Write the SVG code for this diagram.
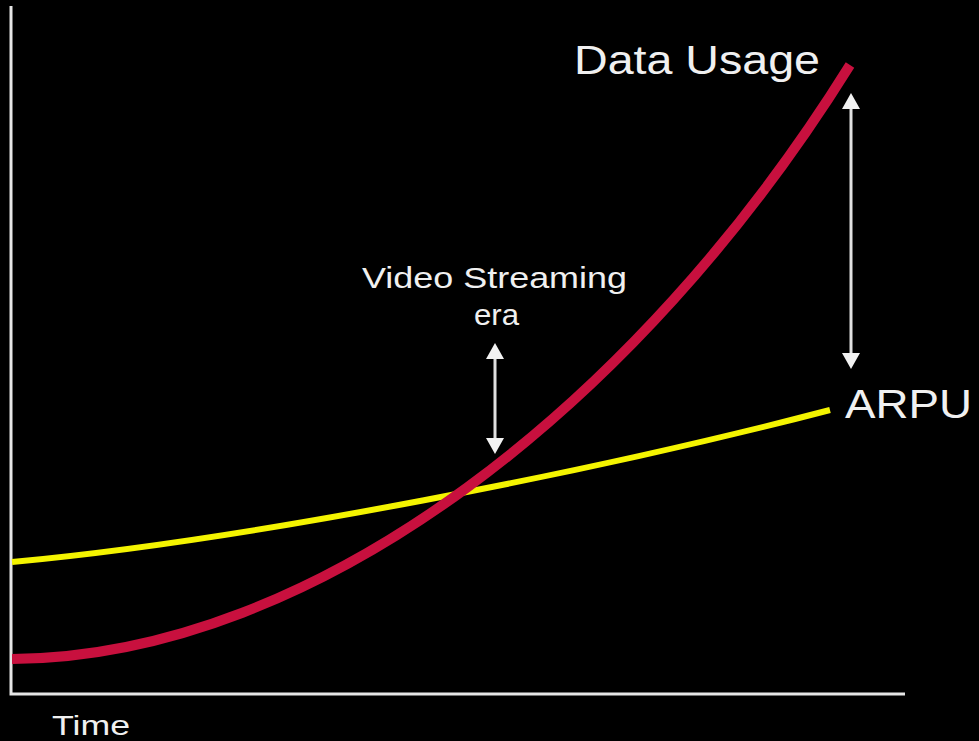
<svg xmlns="http://www.w3.org/2000/svg" width="979" height="741" viewBox="0 0 979 741">
  <defs>
    <style>
      .axis { fill: none; stroke: #e6e6e6; stroke-width: 3; }
      .usage { fill: none; stroke: #c8103e; stroke-width: 10; stroke-linecap: butt; }
      .arpu { fill: none; stroke: #f4f400; stroke-width: 6; stroke-linecap: butt; }
      .dim { stroke: #e0e0e0; stroke-width: 3; }
      .head { fill: #f2f2f2; }
      .lbl { fill: #f0f0f0; font-family: "Liberation Sans", Arial, sans-serif; }
    </style>
  </defs>
  <rect width="979" height="741" fill="#000"/>

  <!-- axes -->
  <g id="axes">
    <polyline class="axis" points="11,6 11,694 905,694"/>
  </g>

  <!-- curves -->
  <g id="connectors">
    <path id="arpu-curve" class="arpu" d="M12,562 C250,540 600,470 830,410"/>
    <path id="usage-curve" class="usage" d="M12,659 C318,657 640,402 850,65"/>
  </g>

  <!-- double-headed gap arrow between the curves -->
  <g id="gap-arrow">
    <line class="dim" x1="851" y1="104" x2="851" y2="358"/>
    <polygon class="head" points="851,93 842,109 860,109"/>
    <polygon class="head" points="851,369 842,353 860,353"/>
  </g>

  <!-- era marker -->
  <g id="era-arrow">
    <line class="dim" x1="495" y1="354" x2="495" y2="443"/>
    <polygon class="head" points="495,343 486,359 504,359"/>
    <polygon class="head" points="495,454 486,438 504,438"/>
  </g>

  <g id="label-data-usage">
    <text class="lbl" x="574" y="74" font-size="40" textLength="246" lengthAdjust="spacingAndGlyphs">Data Usage</text>
  </g>
  <g id="label-arpu">
    <text class="lbl" x="845" y="418" font-size="40" textLength="127" lengthAdjust="spacingAndGlyphs">ARPU</text>
  </g>
  <g id="label-video">
    <text class="lbl" x="362" y="288" font-size="30" textLength="265" lengthAdjust="spacingAndGlyphs">Video Streaming</text>
    <text class="lbl" x="474" y="325" font-size="30" textLength="45" lengthAdjust="spacingAndGlyphs">era</text>
  </g>
  <g id="label-time">
    <text class="lbl" x="52" y="735" font-size="28" textLength="78" lengthAdjust="spacingAndGlyphs">Time</text>
  </g>
</svg>
